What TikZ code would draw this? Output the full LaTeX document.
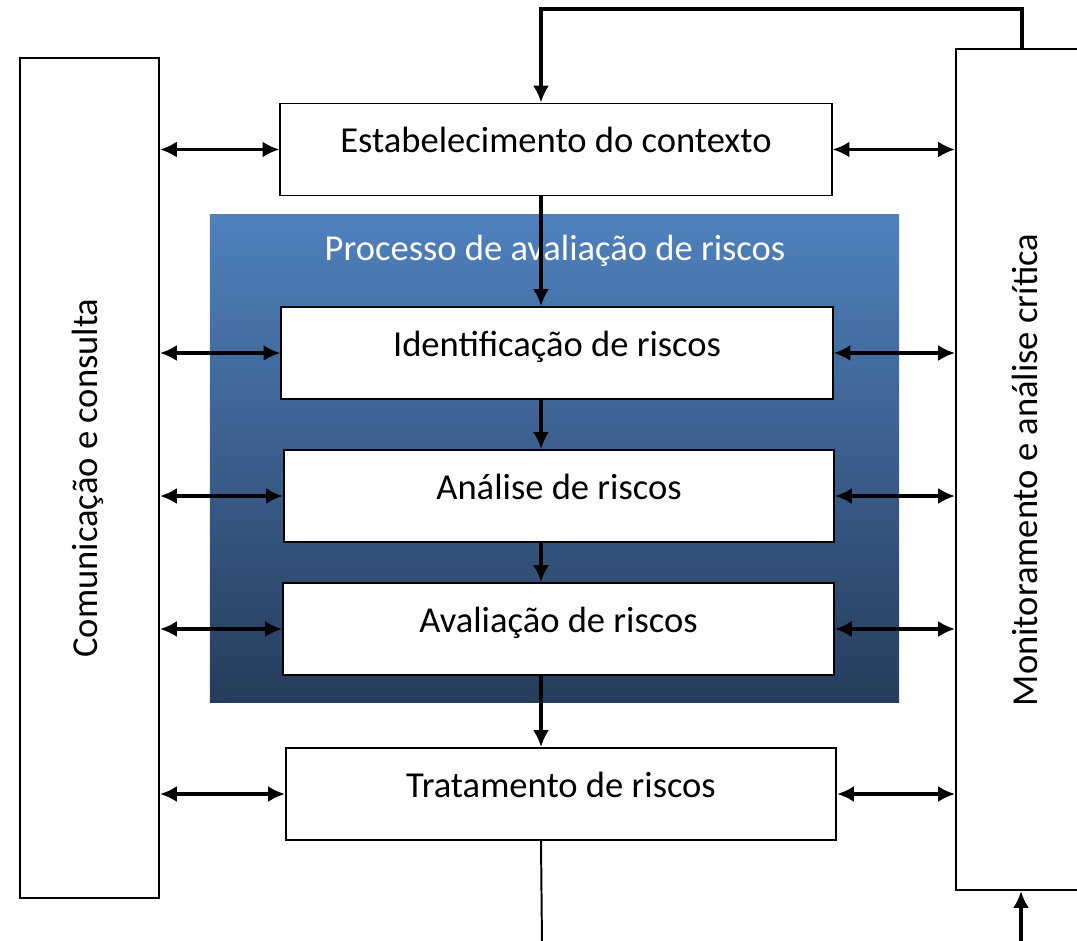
\documentclass[tikz,border=0pt]{standalone}
\usepackage{fontspec}
\setmainfont{Carlito}
\usetikzlibrary{arrows.meta}
\definecolor{panelTop}{RGB}{79,129,189}
\definecolor{panelBot}{RGB}{38,60,92}

\begin{document}
\begin{tikzpicture}[x=0.025cm, y=-0.025cm, >={Latex[length=0.42cm, width=0.4cm]},
				   box/.style={draw=black, line width=1.4pt, fill=white, minimum width=13.78cm, minimum height=2.3cm, text height=0.6cm, text depth=0.45cm, font=\fontsize{26}{30}\selectfont},
				   side/.style={draw=black, line width=1.4pt, fill=white, minimum height=21cm},
				   link/.style={<->, line width=2.2pt},
				   flow/.style={->, line width=2.2pt}]
\useasboundingbox (0,0) rectangle (1077,940);
\clip (0,0) rectangle (1077,940);

% blue panel
\node[minimum width=17.225cm, minimum height=12.175cm, top color=panelTop, bottom color=panelBot] (panel) at (554.5,458.5) {};
\node[text=white, font=\fontsize{26}{30}\selectfont] (title) at (555,251) {Processo de avaliação de riscos};

% side boxes
\node[side, minimum width=3.475cm] (com) at (89.5,478) {};
\node[rotate=90, font=\fontsize{26}{30}\selectfont] (comtxt) at (88,478) {Comunicação e consulta};
\node[side, minimum width=4.1cm, minimum height=21.025cm] (mon) at (1038,469.5) {};
\node[rotate=90, font=\fontsize{26}{30}\selectfont] (montxt) at (1025,470) {Monitoramento e análise crítica};

% process steps
\node[box] (ctx) at (556,149.5) {Estabelecimento do contexto};
\node[box] (ident) at (557,353) {Identificação de riscos};
\node[box, minimum width=13.75cm] (anal) at (559,496) {Análise de riscos};
\node[box, minimum width=13.77cm] (aval) at (558.5,629) {Avaliação de riscos};
\node[box, minimum width=13.75cm] (trat) at (561,794) {Tratamento de riscos};

\coordinate (fbR) at (1022,9);
\coordinate (fbL) at (541,9);
\coordinate (outB) at (542,945);
\coordinate (inB) at (1021,945);

% links to the side boxes
\foreach \n in {ctx, ident, anal, aval, trat} {
	\draw[link] (com.east |- \n) -- (\n.west);
	\draw[link] (\n.east) -- (mon.west |- \n);
}

% main flow
\draw[flow] (fbR |- mon.north) -- (fbR) -- (fbL) -- (fbL |- ctx.north);
\draw[flow] (ctx.south -| fbL) -- (fbL |- ident.north);
\draw[flow] (ident.south -| fbL) -- (fbL |- anal.north);
\draw[flow] (anal.south -| fbL) -- (fbL |- aval.north);
\draw[flow] (aval.south -| fbL) -- (fbL |- trat.north);
\draw[line width=1.4pt] (trat.south -| fbL) -- (outB);
\draw[flow] (inB) -- (inB |- mon.south);
\end{tikzpicture}
\end{document}
